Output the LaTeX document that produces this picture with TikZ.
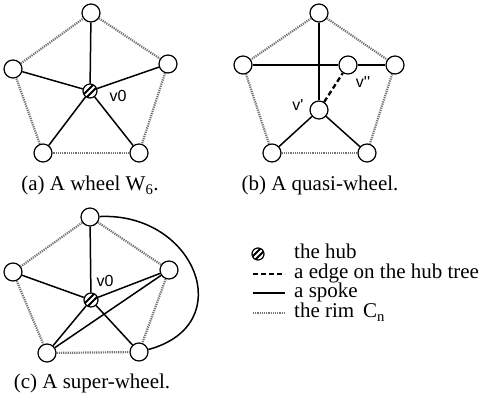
\documentclass[tikz,border=0pt]{standalone}
\usepackage{fontspec}
\setmainfont{Liberation Serif}
\newfontfamily\lblfont{Liberation Sans}
\tikzset{
  vtx/.style={draw, circle, line width=1.2pt, fill=white, minimum size=18pt, inner sep=0pt},
  hub/.style={draw, circle, line width=1.2pt, fill=white, minimum size=#1, inner sep=0pt,
    path picture={\foreach \s in {-3,3}
      \draw[line width=2pt] ([xshift=\s pt]path picture bounding box.south west) -- ([xshift=\s pt]path picture bounding box.north east);}},
  hub/.default=14pt,
  spoke/.style={line width=1.5pt},
  tree/.style={line width=2.3pt, dash pattern=on 5pt off 3pt},
  rim/.style={line width=2.2pt, draw=black!55, dash pattern=on 1.2pt off 1pt},
  lbl/.style={font=\lblfont\fontsize{16}{16}\selectfont, inner sep=0pt},
  captxt/.style={font=\fontsize{21}{21}\selectfont, inner sep=0pt},
}

\begin{document}
\begin{tikzpicture}[x=1pt, y=-1pt]
  \useasboundingbox (0,0) rectangle (483,409);

  % (a) wheel
  \node[vtx] (at) at (91,13) {};
  \node[vtx] (al) at (13,69) {};
  \node[vtx] (ar) at (168,64) {};
  \node[vtx] (abl) at (43,153) {};
  \node[vtx] (abr) at (139,153) {};
  \node[hub] (ah) at (90,91) {};
  \node[lbl] (av0) at (118,96) {v0};
  \foreach \v in {at,al,ar,abl,abr}
    \draw[spoke] (ah) -- (\v);
  \foreach \a/\b in {at/ar,ar/abr,abr/abl,abl/al,al/at}
    \draw[rim] (\a) -- (\b);
  \node[captxt, anchor=base] (capa) at (90,191) {(a) A wheel W\textsubscript{6}.};

  % (b) quasi-wheel
  \node[vtx] (bt) at (319,13) {};
  \node[vtx] (bl) at (243,65) {};
  \node[vtx] (br) at (395,65) {};
  \node[vtx] (bv2) at (348,65) {};
  \node[vtx] (bv1) at (319,110) {};
  \node[vtx] (bbl) at (272,153) {};
  \node[vtx] (bbr) at (367,153) {};
  \foreach \a/\b in {bt/bv1,bl/bv2,bv2/br,bv1/bbl,bv1/bbr}
    \draw[spoke] (\a) -- (\b);
  \draw[tree] (bv1) -- (bv2);
  \foreach \a/\b in {bt/bl,bt/br,bl/bbl,br/bbr,bbl/bbr}
    \draw[rim] (\a) -- (\b);
  \node[lbl] (bv1l) at (298,105) {v'};
  \node[lbl] (bv2l) at (363,82) {v''};
  \node[captxt, anchor=base] (capb) at (320,191) {(b) A quasi-wheel.};

  % (c) super-wheel
  \node[vtx] (ct) at (90,217) {};
  \node[vtx] (cl) at (13,272) {};
  \node[vtx] (cr) at (169,270) {};
  \node[vtx] (cbl) at (47,353) {};
  \node[vtx] (cbr) at (139,352) {};
  \node[hub] (ch) at (91,300) {};
  \node[lbl] (cv0) at (105,281) {v0};
  \foreach \v in {ct,cl,cr,cbl,cbr}
    \draw[spoke] (ch) -- (\v);
  \draw[spoke] (cbl) -- (cr);
  \draw[spoke] (ct) .. controls (195,212) and (240,325) .. (cbr);
  \foreach \a/\b in {ct/cl,ct/cr,cl/cbl,cr/cbr,cbl/cbr}
    \draw[rim] (\a) -- (\b);
  \node[captxt, anchor=base] (capc) at (92,389) {(c) A super-wheel.};

  % legend
  \node[hub=12pt] (khub) at (258,254) {};
  \node[captxt, anchor=base west] (thub) at (294,259) {the hub};
  \coordinate (k1a) at (253,274); \coordinate (k1b) at (285,274);
  \coordinate (k2a) at (253,293); \coordinate (k2b) at (285,293);
  \coordinate (k3a) at (253,313); \coordinate (k3b) at (285,313);
  \draw[tree] (k1a) -- (k1b);
  \draw[spoke] (k2a) -- (k2b);
  \draw[rim] (k3a) -- (k3b);
  \node[captxt, anchor=base west] (ttree) at (294,279) {a edge on the hub tree};
  \node[captxt, anchor=base west] (tspoke) at (294,298) {a spoke};
  \node[captxt, anchor=base west] (trim) at (294,318) {the rim\, C\textsubscript{n}};
\end{tikzpicture}
\end{document}
